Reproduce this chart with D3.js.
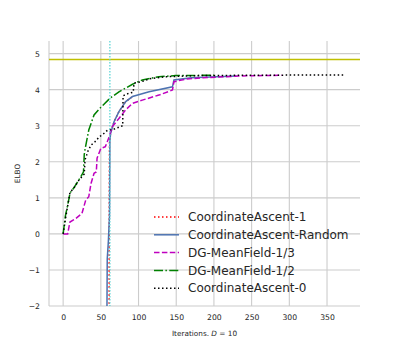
<!DOCTYPE html>
<html>
  <head>
    <meta charset="utf-8"/>
    <title>ELBO vs iterations</title>
    <style>
      body { margin: 0; background: #fff; }
      text { font-family: "DejaVu Sans", sans-serif; }
      .grid line { stroke: #cccccc; stroke-width: 1.1px; }
      .tick text { fill: #262626; font-size: 7.7px; }
    </style>
    <script src="https://d3js.org/d3.v7.min.js"></script>
  </head>
  <body>
    <svg id="chart" width="400" height="344"></svg>
    <script>
      // values
      var xTicks = [0, 50, 100, 150, 200, 250, 300, 350];
      var yTicks = [-2, -1, 0, 1, 2, 3, 4, 5];

      var caOneX = [61, 61, 61.5, 63, 67.5, 74, 83, 92];
      var caOneY = [-2.6, -0.8, 2.6, 2.79, 3.11, 3.39, 3.67, 3.81];

      var caRandX = [58, 58.5, 60, 61.5, 62, 63, 67.5, 74, 83, 92, 114, 145, 147, 170, 230];
      var caRandY = [-2.6, -0.7, -0.2, 0.5, 2.6, 2.79, 3.11, 3.39, 3.67, 3.81, 3.94, 4.08, 4.27, 4.33, 4.38];

      var mf3X = [0, 6, 9, 17, 25, 30, 34, 37, 41, 44, 45, 50, 56, 61, 65, 74, 83, 92, 105, 127, 145, 147, 162, 184, 237, 290];
      var mf3Y = [0, 0, 0.33, 0.43, 0.57, 0.94, 1.03, 1.4, 1.68, 1.72, 2.1, 2.37, 2.42, 2.69, 2.97, 3.2, 3.44, 3.62, 3.71, 3.85, 3.99, 4.22, 4.29, 4.33, 4.38, 4.4];

      var mf2X = [0, 3, 8, 9, 15, 23, 27, 28, 29, 34, 41, 50, 62, 74, 92, 105, 127, 149, 200];
      var mf2Y = [0, 0.5, 1.0, 1.13, 1.3, 1.57, 1.72, 2.2, 2.34, 2.88, 3.3, 3.51, 3.76, 3.94, 4.15, 4.27, 4.36, 4.39, 4.4];

      var caZeroX = [0, 3.5, 9, 15, 21, 28, 29, 33, 37, 42, 48, 55, 59, 68, 79, 79.5, 87, 93, 94, 103, 107, 114, 136, 180, 250, 374];
      var caZeroY = [0, 0.47, 1.14, 1.3, 1.49, 1.66, 2.05, 2.3, 2.46, 2.55, 2.69, 2.8, 2.88, 2.91, 3.0, 3.83, 3.9, 3.93, 4.18, 4.22, 4.24, 4.3, 4.36, 4.39, 4.4, 4.41];

      var optimum = 4.84;
      var switchIter = 62;

      var series = [
        {name: "CoordinateAscent-1", xs: caOneX, ys: caOneY, color: "#ff0000", dash: "1.5,2.5"},
        {name: "CoordinateAscent-Random", xs: caRandX, ys: caRandY, color: "#4c72b0", dash: null},
        {name: "DG-MeanField-1/3", xs: mf3X, ys: mf3Y, color: "#bf00bf", dash: "5.5,2.4"},
        {name: "DG-MeanField-1/2", xs: mf2X, ys: mf2Y, color: "#008000", dash: "9,2.4,1.5,2.4"},
        {name: "CoordinateAscent-0", xs: caZeroX, ys: caZeroY, color: "#000000", dash: "1.5,2.5"}
      ];

      var svg = d3.select("#chart");
      var pLeft = 49, pRight = 360, pTop = 41, pBottom = 306;

      var x = d3.scaleLinear().domain([-18.75, 393.75]).range([pLeft, pRight]);
      var y = d3.scaleLinear().domain([-2, 5.35]).range([pBottom, pTop]);

      // grid
      var grid = svg.append("g").attr("class", "grid");
      grid.selectAll(".vx").data(xTicks).enter().append("line")
        .attr("x1", d => x(d)).attr("x2", d => x(d))
        .attr("y1", pTop).attr("y2", pBottom);
      grid.selectAll(".hy").data(yTicks).enter().append("line")
        .attr("x1", pLeft).attr("x2", pRight)
        .attr("y1", d => y(d)).attr("y2", d => y(d));
      // left spine
      grid.append("line").attr("x1", pLeft).attr("x2", pLeft).attr("y1", pTop).attr("y2", pBottom);

      // axes (labels only, no tick marks)
      var xAxis = svg.append("g").attr("transform", "translate(0," + pBottom + ")")
        .call(d3.axisBottom(x).tickValues(xTicks).tickSize(0).tickPadding(9));
      xAxis.select(".domain").remove();
      var yAxis = svg.append("g").attr("transform", "translate(" + pLeft + ",0)")
        .call(d3.axisLeft(y).tickValues(yTicks).tickSize(0).tickPadding(9)
          .tickFormat(d => d < 0 ? "\u2212" + Math.abs(d) : d));
      yAxis.select(".domain").remove();
      svg.selectAll(".tick text").attr("font-family", "DejaVu Sans");

      svg.append("text").attr("x", (pLeft + pRight) / 2).attr("y", 336)
        .attr("text-anchor", "middle").attr("font-size", "7.3px").attr("fill", "#262626")
        .html("Iterations. <tspan font-style='italic'>D</tspan> = 10");
      svg.append("text").attr("transform", "translate(20," + (pTop + pBottom) / 2 + ") rotate(-90)")
        .attr("text-anchor", "middle").attr("font-size", "7.3px").attr("fill", "#262626")
        .text("ELBO");

      // plot
      svg.append("clipPath").attr("id", "clip").append("rect")
        .attr("x", pLeft).attr("y", pTop).attr("width", pRight - pLeft).attr("height", pBottom - pTop);
      var plot = svg.append("g").attr("clip-path", "url(#clip)");

      var line = d3.line().x(d => x(d[0])).y(d => y(d[1]));

      plot.append("line").attr("x1", pLeft).attr("x2", pRight)
        .attr("y1", y(optimum)).attr("y2", y(optimum))
        .attr("stroke", "#bfbf00").attr("stroke-width", 1.5);

      series.forEach(function(s) {
        var pts = s.xs.map((v, i) => [v, s.ys[i]]);
        plot.append("path").datum(pts)
          .attr("d", line)
          .attr("fill", "none")
          .attr("stroke", s.color)
          .attr("stroke-width", 1.5)
          .attr("stroke-dasharray", s.dash);
      });

      plot.append("line").attr("x1", x(switchIter)).attr("x2", x(switchIter))
        .attr("y1", pTop).attr("y2", pBottom)
        .attr("stroke", "#5cd6d6").attr("stroke-width", 1.3).attr("stroke-dasharray", "1.5,1.5");

      // legend
      var legend = svg.append("g").attr("transform", "translate(154,217)");
      var rows = legend.selectAll("g").data(series).enter().append("g")
        .attr("transform", (d, i) => "translate(0," + i * 17.8 + ")");
      rows.append("line").attr("x1", 0).attr("x2", 25)
        .attr("stroke", d => d.color).attr("stroke-width", 1.5)
        .attr("stroke-dasharray", d => d.dash);
      rows.append("text").attr("x", 34).attr("dy", "0.35em")
        .attr("font-size", "12px").attr("fill", "#262626")
        .text(d => d.name);
    </script>
  </body>
</html>
